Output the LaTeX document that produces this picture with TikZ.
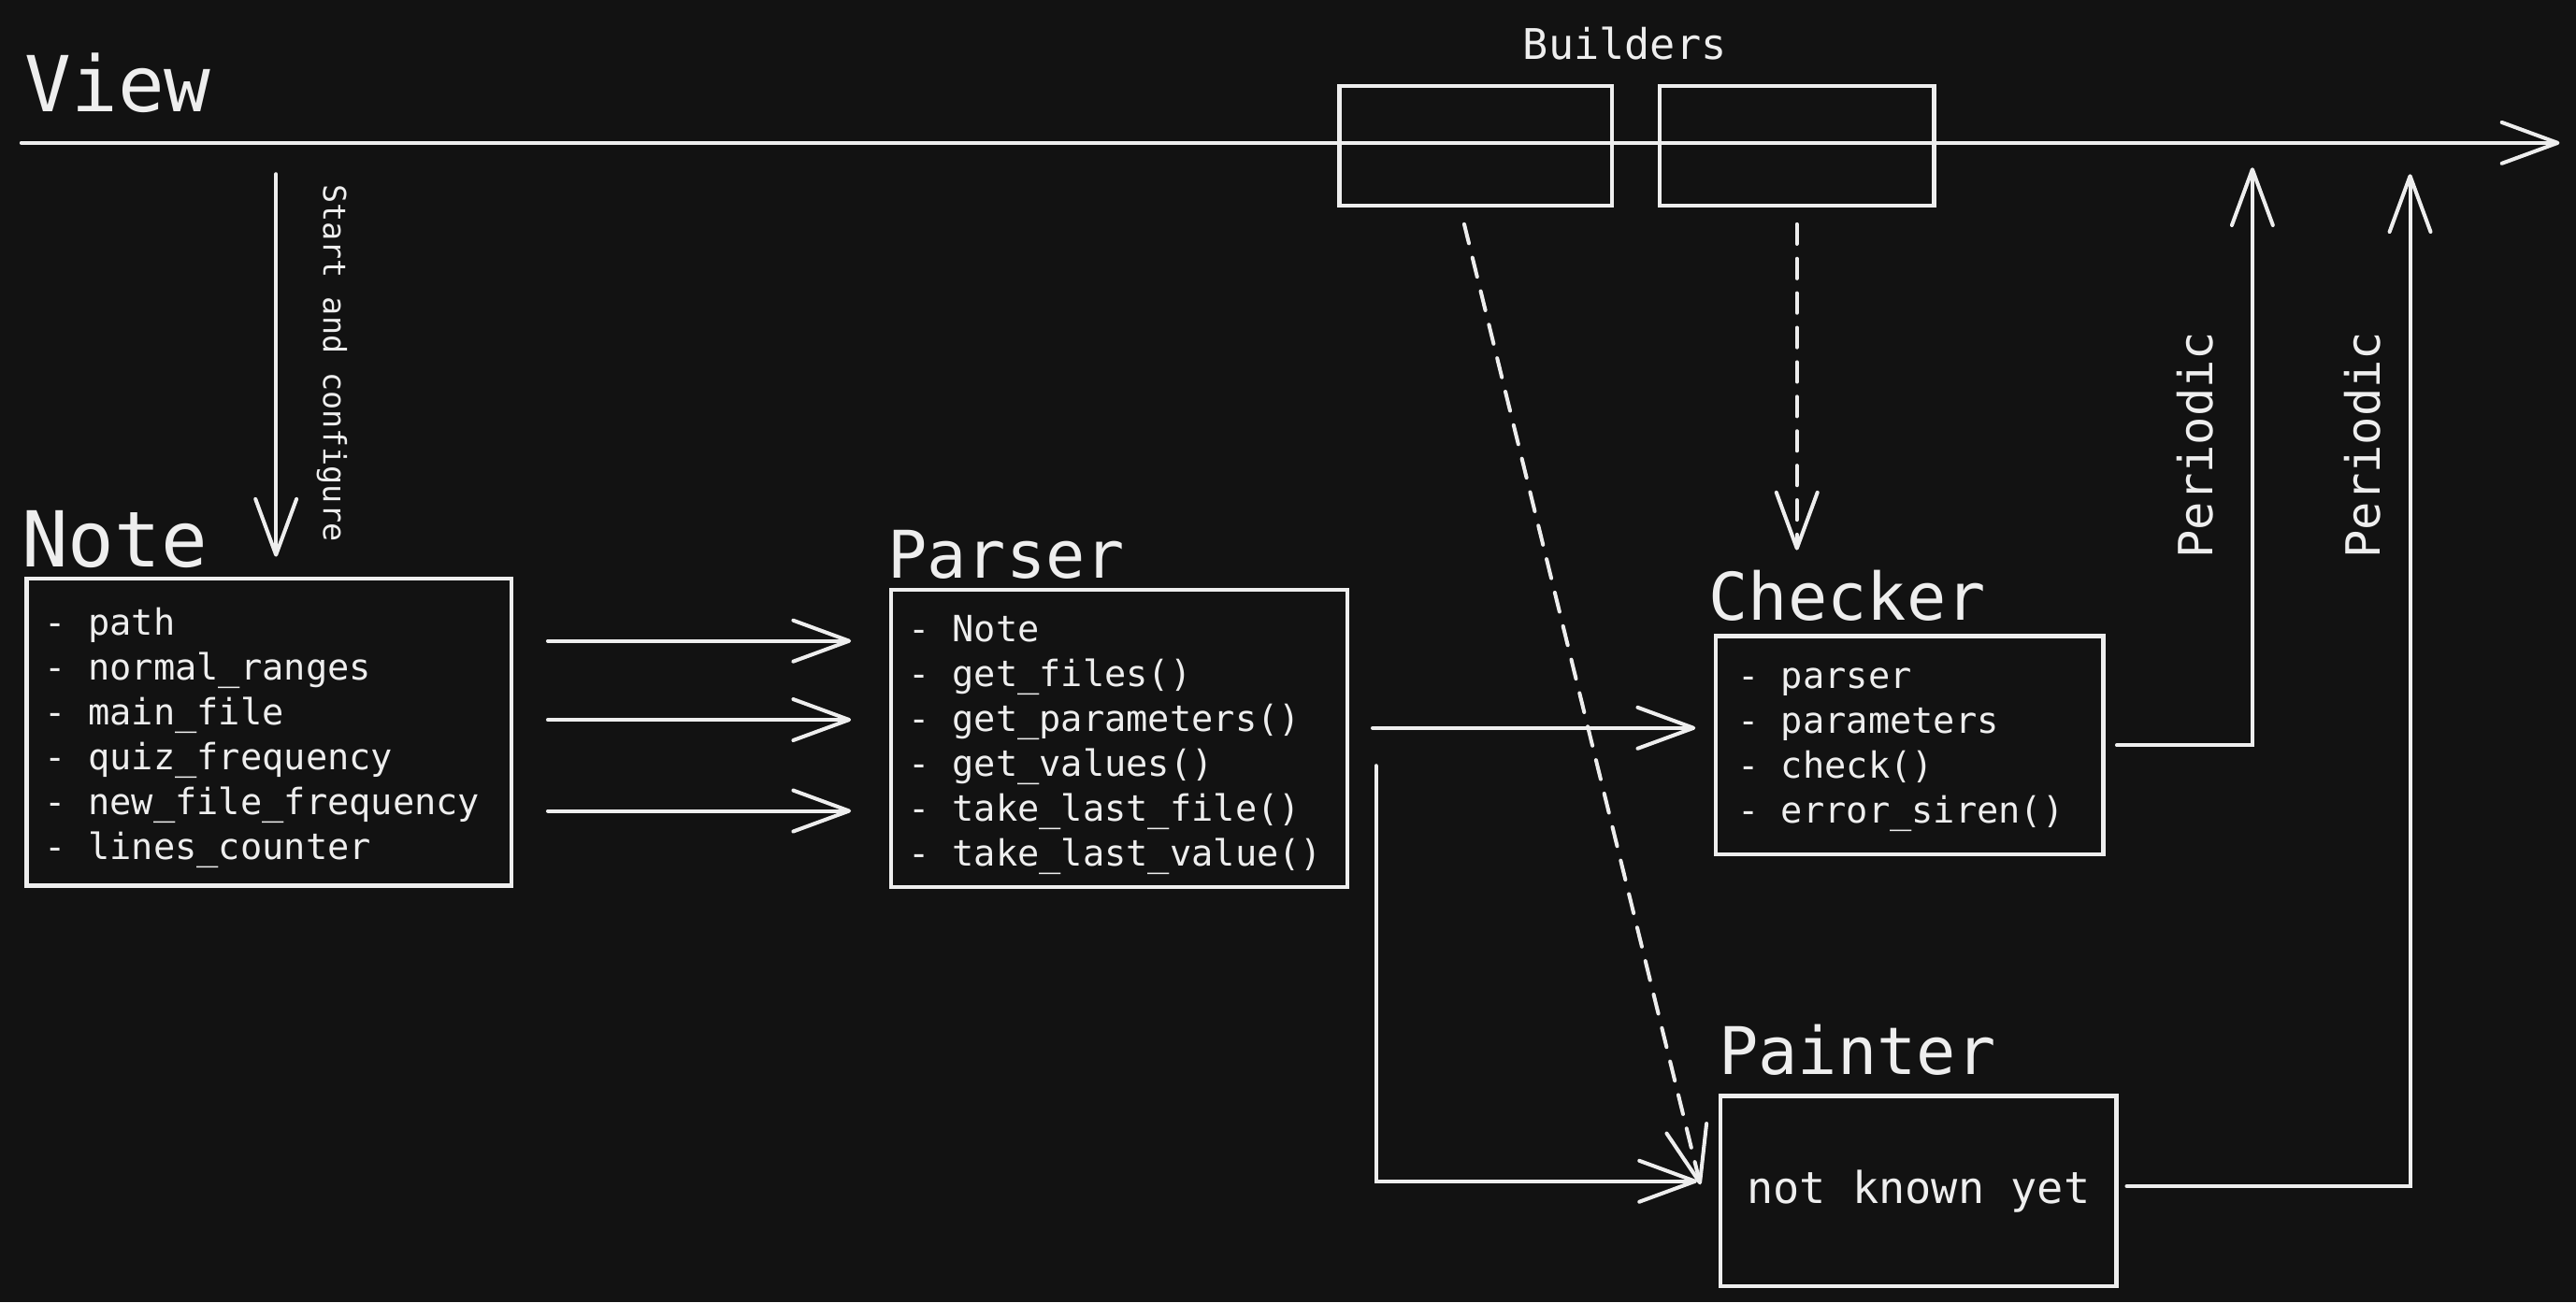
\documentclass[tikz,border=0pt]{standalone}
\usepackage{fontspec}
\setmonofont{DejaVu Sans Mono}
\usepackage{tikz}
\usetikzlibrary{arrows.meta}
\definecolor{canvas}{HTML}{121212}
\definecolor{ink}{HTML}{EEEEEE}
\tikzset{
    class-box/.style = {draw=ink, line width=2.5pt, rectangle, anchor=north west, inner sep=0pt},
    class-title/.style = {text=ink, anchor=base west, inner sep=0pt, font=\ttfamily\fontsize{40}{40}\selectfont},
    layer-title/.style = {class-title, font=\ttfamily\fontsize{47}{47}\selectfont},
    member-list/.style = {text=ink, anchor=north west, inner sep=0pt, align=left, font=\ttfamily\fontsize{22}{27.3}\selectfont},
    side-label/.style = {text=ink, inner sep=0pt, font=\ttfamily\fontsize{#1}{#1}\selectfont},
    flow/.style = {draw=ink, line width=2.3pt, line cap=round, -{Straight Barb[length=34pt, width=25pt, round]}},
    build-flow/.style = {flow, dash pattern=on 12pt off 9pt},
}

\begin{document}
\begin{tikzpicture}[x=1pt, y=-1pt]
\path[use as bounding box, fill=canvas] (0,0) rectangle (1568,793);

% view and builders
\node[layer-title] (view-title) at (15,68) {View};
\coordinate (view-start) at (13,87);
\coordinate (view-end) at (1558,87);
\draw[flow] (view-start) -- (view-end);
\node[class-box, minimum width=166, minimum height=73] (builder-a) at (814,51) {};
\node[class-box, minimum width=167, minimum height=73] (builder-b) at (1009,51) {};
\node[side-label=25.7, anchor=base] (builders-title) at (989,36.4) {Builders};

% classes
\node[class-box, minimum width=295, minimum height=187] (note) at (15,351) {};
\node[layer-title] (note-title) at ([xshift=-2pt, yshift=6pt]note.north west) {Note};
\node[member-list] (note-list) at ([xshift=12pt, yshift=-16.4pt]note.north west) {\strut- path\\- normal\_ranges\\- main\_file\\- quiz\_frequency\\- new\_file\_frequency\\- lines\_counter};

\node[class-box, minimum width=278, minimum height=181] (parser) at (541,358) {};
\node[class-title] (parser-title) at ([xshift=-1pt, yshift=6pt]parser.north west) {Parser};
\node[member-list] (parser-list) at ([xshift=12pt, yshift=-13.4pt]parser.north west) {\strut- Note\\- get\_files()\\- get\_parameters()\\- get\_values()\\- take\_last\_file()\\- take\_last\_value()};

\node[class-box, minimum width=236, minimum height=133] (checker) at (1043,386) {};
\node[class-title] (checker-title) at ([xshift=-3pt, yshift=8.5pt]checker.north west) {Checker};
\node[member-list] (checker-list) at ([xshift=14.5pt, yshift=-13.9pt]checker.north west) {\strut- parser\\- parameters\\- check()\\- error\_siren()};

\node[class-box, minimum width=241, minimum height=116, text=ink, font=\ttfamily\fontsize{26.7}{32}\selectfont] (painter) at (1046,666) {not known yet};
\node[class-title] (painter-title) at ([yshift=12pt]painter.north west) {Painter};

% start
\coordinate (setup-from) at (168,106);
\draw[flow, shorten >=12pt] (setup-from) -- (setup-from |- note.north);
\node[side-label=19, rotate=-90] (setup-label) at (202,221) {Start and configure};

% note -> parser
\coordinate (note-out-a) at ([yshift=55.5pt]note.east);
\coordinate (note-out-b) at ([yshift=7.5pt]note.east);
\coordinate (note-out-c) at ([yshift=-48pt]note.east);
\draw[flow, shorten <=21pt, shorten >=23pt] (note-out-a) -- (note-out-a -| parser.west);
\draw[flow, shorten <=21pt, shorten >=23pt] (note-out-b) -- (note-out-b -| parser.west);
\draw[flow, shorten <=21pt, shorten >=23pt] (note-out-c) -- (note-out-c -| parser.west);

% parser -> checker, painter
\coordinate (parser-out-a) at ([yshift=6.5pt]parser.east);
\draw[flow, shorten <=14pt, shorten >=11pt] (parser-out-a) -- (parser-out-a -| checker.west);
\draw[flow, shorten >=13pt] ([xshift=16pt, yshift=-16.5pt]parser.east) |- ([yshift=6pt]painter.west);

% builders
\draw[build-flow] ([xshift=-7pt, yshift=-10pt]builder-a.south) -- ([xshift=-11pt, yshift=4pt]painter.west);
\draw[build-flow, shorten <=10pt, shorten >=51pt] (builder-b.south) -- (builder-b.south |- checker.north);

% back to view
\coordinate (view-in-a) at (1371,87);
\coordinate (view-in-b) at (1467,87);
\draw[flow, shorten <=7pt, shorten >=15pt] (checker.east) -| (view-in-a);
\draw[flow, shorten <=5pt, shorten >=19pt] ([yshift=3pt]painter.east) -| (view-in-b);
\node[side-label=28.7, rotate=90] (periodic-a) at (1336,271) {Periodic};
\node[side-label=28.7, rotate=90] (periodic-b) at (1438,271) {Periodic};
\end{tikzpicture}
\end{document}
